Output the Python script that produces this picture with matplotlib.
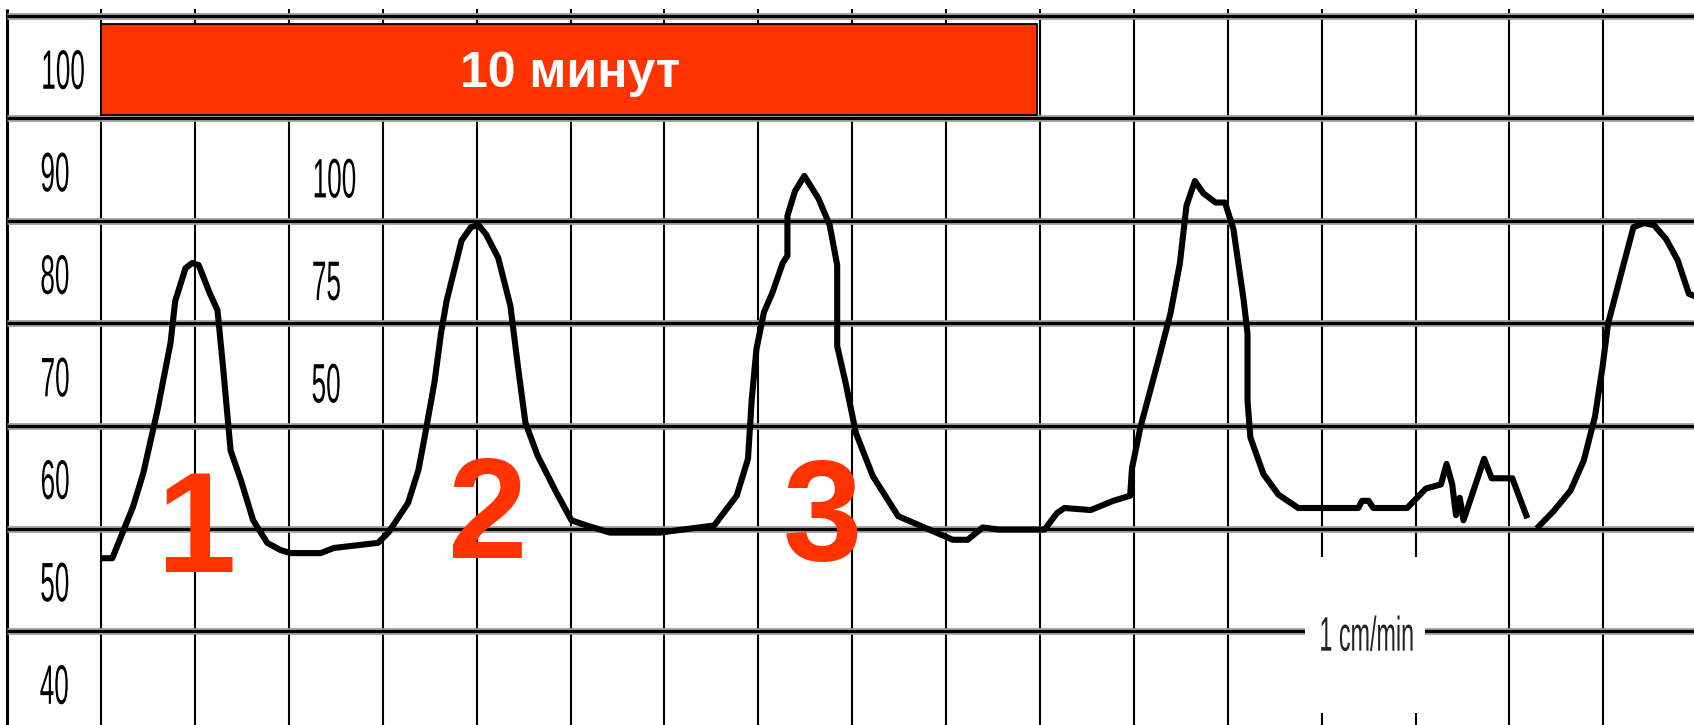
import numpy as np
import matplotlib.pyplot as plt
from matplotlib.patches import Rectangle
from matplotlib import patheffects
from matplotlib.transforms import Affine2D

# trace: minutes vs. scale value
minutes = [0.01, 0.12, 0.34, 0.45, 0.60, 0.74, 0.79, 0.90, 0.97, 1.04,
           1.16, 1.24, 1.30, 1.38, 1.49, 1.62, 1.77, 1.91, 2.02, 2.34,
           2.48, 2.95, 3.06, 3.27, 3.38, 3.44, 3.55, 3.62, 3.68, 3.84,
           3.94, 4.02, 4.10, 4.23, 4.36, 4.44, 4.52, 4.65, 4.85, 5.01,
           5.17, 5.42, 5.95, 6.53, 6.77, 6.89, 6.93, 6.98, 7.06, 7.15,
           7.26, 7.31, 7.31, 7.39, 7.49, 7.64, 7.76, 7.84, 7.84, 7.93,
           8.04, 8.22, 8.49, 8.82, 9.07, 9.23, 9.39, 9.56, 10.05, 10.18,
           10.26, 10.54, 10.78, 10.96, 10.98, 11.07, 11.26, 11.39, 11.49, 11.56,
           11.65, 11.74, 11.87, 11.97, 12.06, 12.17, 12.21, 12.21, 12.24, 12.38,
           12.54, 12.75, 13.39, 13.43, 13.50, 13.55, 13.91, 14.11, 14.27, 14.33,
           14.39, 14.43, 14.47, 14.51, 14.73, 14.81, 15.03, 15.19, 15.24, 15.29,
           15.47, 15.65, 15.79, 15.91, 15.99, 16.05, 16.19, 16.32, 16.43, 16.54,
           16.67, 16.79, 16.91, 17.02]
values = [52.1, 52.1, 57.1, 60.4, 66.5, 73.1, 77.2, 80.4, 80.9, 80.7,
          77.9, 76.3, 70.7, 62.6, 59.7, 55.8, 53.6, 52.9, 52.6, 52.6,
          53.1, 53.6, 54.6, 57.5, 60.7, 63.6, 69.2, 74.0, 77.2, 83.1,
          84.4, 84.6, 83.7, 81.4, 76.7, 70.8, 65.3, 62.1, 58.5, 55.8,
          55.3, 54.6, 54.6, 55.3, 58.2, 61.8, 67.6, 72.5, 76.1, 78.0,
          80.9, 81.6, 85.5, 87.9, 89.4, 87.2, 84.6, 80.7, 72.8, 69.2,
          64.3, 60.1, 56.2, 54.9, 53.9, 53.9, 55.1, 54.9, 54.9, 56.5,
          57.0, 56.8, 57.7, 58.2, 60.9, 64.9, 71.4, 76.0, 80.9, 86.5,
          88.9, 87.7, 86.8, 86.8, 84.2, 77.2, 74.0, 67.5, 63.9, 60.3,
          58.3, 57.0, 57.0, 57.7, 57.7, 57.0, 57.0, 58.9, 59.3, 61.3,
          59.3, 56.3, 58.0, 55.8, 61.8, 59.9, 59.9, 56.0, np.nan, 55.0,
          56.7, 58.7, 61.6, 65.9, 70.7, 75.0, 79.9, 84.4, 84.8, 84.6,
          83.2, 81.2, 77.9, 77.5]

left_labels = ["100", "90", "80", "70", "60", "50", "40"]
left_rows = [100, 90, 80, 70, 60, 50, 40]
pressure_labels = ["100", "75", "50"]
pressure_rows = [90, 80, 70]
contractions = ["1", "2", "3"]
contraction_x = [1.02, 4.12, 7.68]
contraction_base = [50.8, 52.1, 51.9]

RED = "#FF3300"


class Squeeze(patheffects.AbstractPathEffect):
    # the printed paper digits are very narrow, squash the glyphs sideways
    def __init__(self, sx, anchor="left"):
        super().__init__()
        self.sx = sx
        self.anchor = anchor

    def draw_path(self, renderer, gc, tpath, affine, rgbFace=None):
        ext = affine.transform_path(tpath).get_extents()
        cx = ext.x0 if self.anchor == "left" else (ext.x0 + ext.x1) / 2
        sq = Affine2D().translate(-cx, 0).scale(self.sx, 1).translate(cx, 0)
        renderer.draw_path(gc, tpath, affine + sq, rgbFace)


fig = plt.figure(figsize=(16.94, 7.25), dpi=100)
ax = fig.add_axes([0, 0, 1, 1])
ax.set_xlim(-1.076, 16.965)
ax.set_ylim(35.83, 106.56)
ax.axis("off")

# paper grid: one column per minute
ax.vlines(range(0, 18), 30, 105.7, color="black", lw=1.5, zorder=1)
ax.vlines([-1], 30, 105.7, color="black", lw=2.2, zorder=1)
rows = [105, 95, 85, 75, 65, 55, 45]
ax.hlines(rows, -1, 18, color="#9a9a9a", lw=4.8, zorder=1)
ax.hlines(rows, -1, 18, color="black", lw=2.2, zorder=1)

# paper speed stamp
ax.add_patch(Rectangle((12.82, 37.0), 1.28, 15.2, fc="white", ec="none", zorder=2))
ax.text(13.48, 44.3, "1 cm/min", family="Liberation Sans", fontsize=35,
        color="#222222", ha="center", va="center", zorder=5,
        path_effects=[Squeeze(0.48, "center")])

for lab, r in zip(left_labels, left_rows):
    ax.text(-0.66, r - 2.1, lab, family="Liberation Sans", fontsize=40,
            color="black", ha="left", va="baseline", zorder=5,
            path_effects=[Squeeze(0.47)])
for lab, r in zip(pressure_labels, pressure_rows):
    ax.text(2.23, r - 2.7, lab, family="Liberation Sans", fontsize=40,
            color="black", ha="left", va="baseline", zorder=5,
            path_effects=[Squeeze(0.47)])

# 10 minute window
ax.add_patch(Rectangle((0, 95.34), 9.97, 8.86, fc=RED, ec="black", lw=1.3, zorder=3))
ax.text(5.0, 98.07, "10 минут", family="Liberation Sans", weight="bold",
        fontsize=36, color="white", ha="center", va="baseline", zorder=5)

for lab, x, b in zip(contractions, contraction_x, contraction_base):
    ax.text(x, b, lab, family="Liberation Sans", weight="bold", fontsize=103,
            color=RED, ha="center", va="baseline", zorder=4)

ax.plot(minutes, values, color="black", lw=4.4, solid_joinstyle="round",
        solid_capstyle="butt", zorder=6)

plt.savefig("out.png", dpi=100)
